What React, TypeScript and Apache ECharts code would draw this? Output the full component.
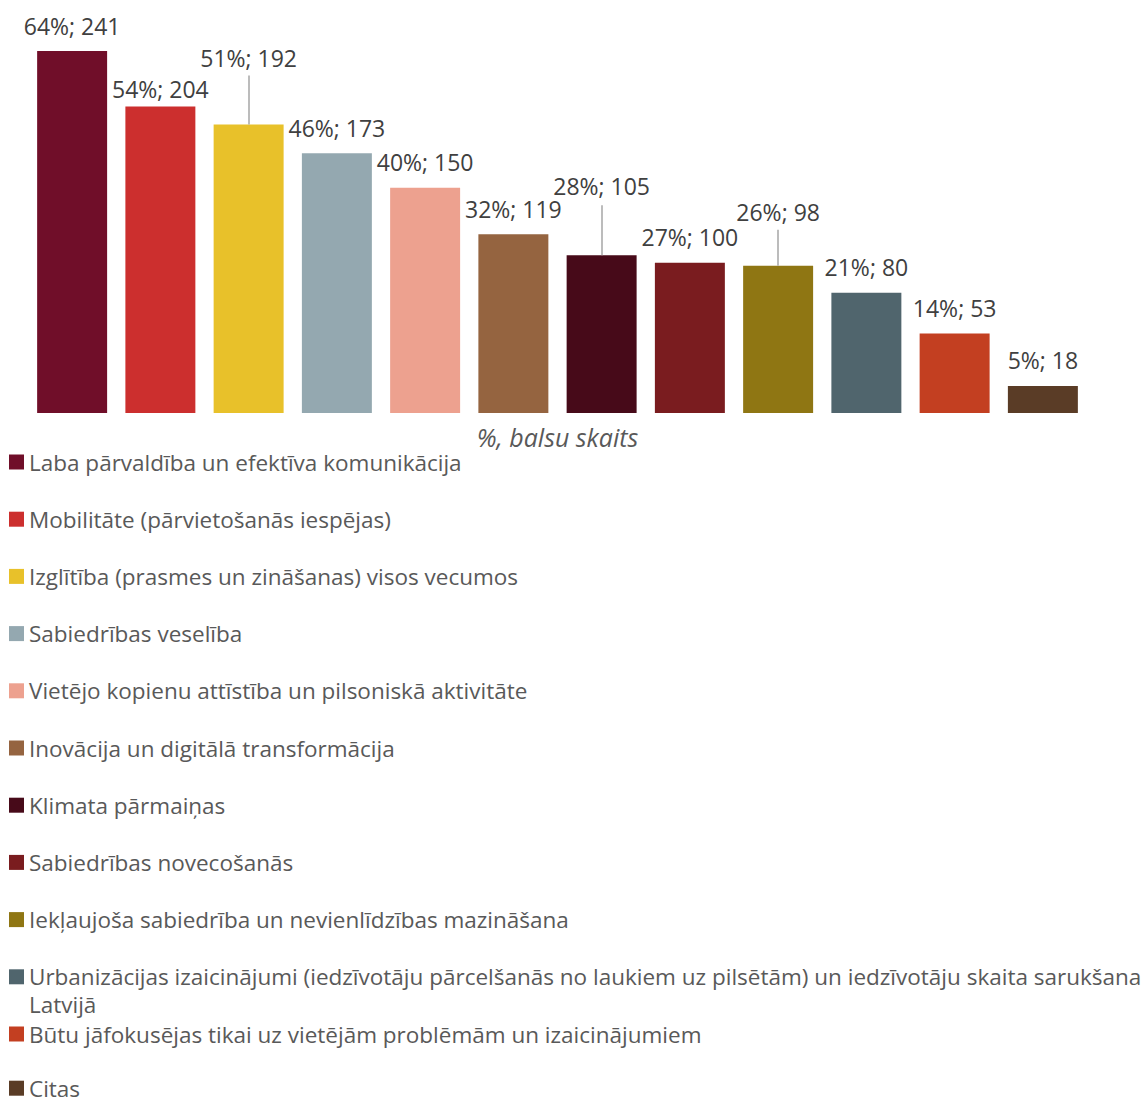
import React, { useEffect, useRef } from "react";
import * as echarts from "echarts";

const categories = [
  "Laba pārvaldība un efektīva komunikācija",
  "Mobilitāte (pārvietošanās iespējas)",
  "Izglītība (prasmes un zināšanas) visos vecumos",
  "Sabiedrības veselība",
  "Vietējo kopienu attīstība un pilsoniskā aktivitāte",
  "Inovācija un digitālā transformācija",
  "Klimata pārmaiņas",
  "Sabiedrības novecošanās",
  "Iekļaujoša sabiedrība un nevienlīdzības mazināšana",
  "Urbanizācijas izaicinājumi (iedzīvotāju pārcelšanās no laukiem uz pilsētām) un iedzīvotāju skaita sarukšana Latvijā",
  "Būtu jāfokusējas tikai uz vietējām problēmām un izaicinājumiem",
  "Citas",
];
const counts = [241, 204, 192, 173, 150, 119, 105, 100, 98, 80, 53, 18];
const percents = [64, 54, 51, 46, 40, 32, 28, 27, 26, 21, 14, 5];
const axisName = "%, balsu skaits";
const wrappedTail = "Latvijā";

const colors = [
  "#700e29", "#cc2f2e", "#e8c12a", "#94a8b0", "#eda18f", "#956440",
  "#470a19", "#7a1c1f", "#8f7613", "#50656d", "#c33f21", "#5a3c26",
];
// label distance above bar top (px) and leader length (px), styling only
const labelDistance = [11, 4, 53, 11, 12, 11, 55, 12, 40, 12, 11, 12];
const leaderPx = [0, 0, 49, 0, 0, 0, 50, 0, 36, 0, 0, 0];

const W = 1148;
const H = 1099;
const gridTop = 51;
const gridBottom = 686;
const plotH = H - gridTop - gridBottom;
const yMax = 241;
const legendTop = 448;
const legendStep = 57.2;

export default function App() {
  const ref = useRef<HTMLDivElement>(null);
  useEffect(() => {
    if (!ref.current) return;
    const chart = echarts.init(ref.current, undefined, { renderer: "svg" });
    const font = "'Open Sans', 'Noto Sans', sans-serif";
    const series = categories.map((name, i) => {
      const data = categories.map((_, j) => (j === i ? counts[j] : null));
      const s: any = {
        name,
        type: "bar",
        data,
        barGap: "-100%",
        barCategoryGap: "20.7%",
        itemStyle: { color: colors[i] },
        label: {
          show: true,
          position: "top",
          distance: labelDistance[i],
          formatter: () => `${percents[i]}%; ${counts[i]}`,
          fontFamily: font,
          fontSize: 23,
          lineHeight: 28,
          color: "#404040",
        },
      };
      if (leaderPx[i] > 0) {
        const lead = (leaderPx[i] * yMax) / plotH;
        s.markLine = {
          silent: true,
          symbol: "none",
          label: { show: false },
          lineStyle: { color: "#a6a6a6", width: 1.5, type: "solid" },
          data: [[{ coord: [i, counts[i]] }, { coord: [i, counts[i] + lead] }]],
        };
      }
      return s;
    });
    const legendBase = {
      orient: "vertical",
      left: 9,
      padding: 0,
      itemGap: legendStep - 28,
      itemWidth: 15,
      itemHeight: 15,
      icon: "rect",
      formatter: (n: string) =>
        n === categories[9] ? n.replace(" " + wrappedTail, "") : n,
      textStyle: {
        fontFamily: font,
        fontSize: 22.5,
        lineHeight: 28,
        color: "#595959",
      },
    };
    chart.setOption({
      animation: false,
      backgroundColor: "#ffffff",
      grid: { left: 28, right: 61, top: gridTop, bottom: gridBottom },
      xAxis: {
        type: "category",
        data: categories,
        axisLine: { show: false },
        axisTick: { show: false },
        axisLabel: { show: false },
        name: axisName,
        nameLocation: "middle",
        nameGap: 11,
        nameTextStyle: {
          fontFamily: font,
          fontStyle: "italic",
          fontSize: 25,
          color: "#595959",
        },
      },
      yAxis: { type: "value", min: 0, max: yMax, show: false },
      legend: [
        { ...legendBase, top: legendTop, data: categories.slice(0, 11) },
        {
          ...legendBase,
          top: legendTop + 11 * legendStep - 0.5,
          data: categories.slice(11),
          textStyle: { ...legendBase.textStyle, lineHeight: 22 },
        },
      ],
      graphic: [
        {
          type: "text",
          x: 29,
          y: legendTop + 9 * legendStep + 14 + 28,
          style: {
            text: wrappedTail,
            font: `22.5px ${font}`,
            fill: "#595959",
            verticalAlign: "middle",
          },
        },
      ],
      series,
    });
    return () => chart.dispose();
  }, []);
  return (
    <div
      ref={ref}
      style={{ position: "absolute", left: 0, top: 0, width: W, height: H }}
    />
  );
}
